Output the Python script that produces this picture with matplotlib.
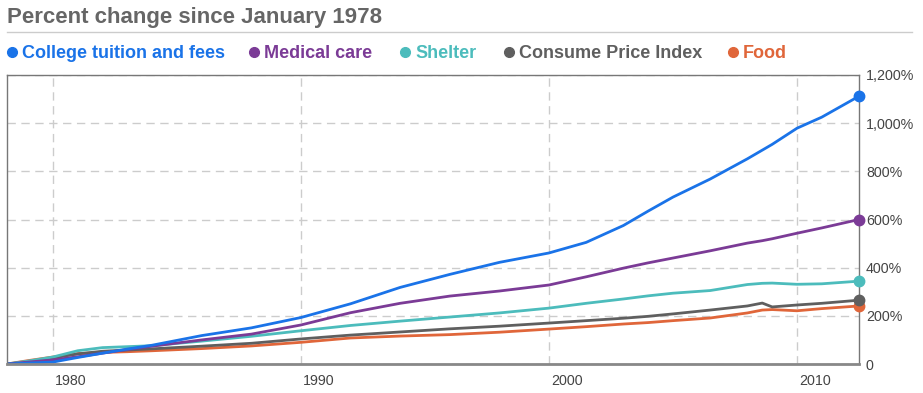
import matplotlib.pyplot as plt
import matplotlib.transforms as mtransforms
from matplotlib.lines import Line2D

years = [1978.15, 1979, 1980, 1981, 1982, 1983, 1984, 1986, 1988, 1990, 1992, 1994, 1996,
         1998, 2000, 2001.5, 2003, 2004, 2005, 2006.5, 2008, 2008.6, 2009, 2010, 2011, 2012.5]

tuition = [0, 4, 8, 27, 45, 62, 78, 118, 150, 193, 250, 318, 372,
           422, 461, 505, 575, 635, 693, 768, 852, 888, 912, 979, 1025, 1112]
medical = [0, 8, 17, 30, 45, 60, 74, 100, 124, 162, 213, 252, 282,
           303, 328, 362, 398, 420, 440, 470, 502, 512, 520, 543, 565, 600]
shelter = [0, 12, 29, 55, 68, 72, 76, 95, 115, 138, 160, 178, 195,
           212, 232, 252, 270, 283, 294, 305, 330, 335, 336, 331, 333, 344]
cpi = [0, 9, 25, 42, 53, 58, 63, 74, 86, 104, 120, 133, 146,
       157, 170, 180, 190, 198, 208, 224, 241, 253, 237, 245, 252, 265]
food = [0, 14, 29, 43, 48, 51, 55, 64, 75, 90, 108, 116, 122,
        132, 145, 155, 166, 172, 180, 191, 212, 224, 226, 221, 230, 241]

names = ['College tuition and fees', 'Medical care', 'Shelter', 'Consume Price Index', 'Food']
colors = ['#1a73e8', '#7b3b96', '#4cbcbc', '#5f5f5f', '#e0663a']
series = [tuition, medical, shelter, cpi, food]

yticks = [0, 200, 400, 600, 800, 1000, 1200]
xticks = [1980, 1990, 2000, 2010]

plt.rcParams['font.family'] = ['Liberation Sans', 'DejaVu Sans']

fig = plt.figure(figsize=(9.23, 3.93), dpi=100)
ax = fig.add_axes([7 / 923, 29 / 393, 852 / 923, 289 / 393])

# draw back to front so tuition sits on top
for vals, c in reversed(list(zip(series, colors))):
    ax.plot(years, vals, color=c, lw=2.0, solid_capstyle='round')
    ax.plot(years[-1], vals[-1], 'o', color=c, ms=7.5, clip_on=False, zorder=5)

ax.set_xlim(1978.15, 2012.5)
ax.set_ylim(0, 1200)

ax.set_yticks(yticks)
ax.set_yticklabels(['0' if v == 0 else '{:,}%'.format(v) for v in yticks])
ax.yaxis.tick_right()
ax.tick_params(axis='y', length=0, pad=5, labelsize=10.3, labelcolor='#444444')

ax.set_xticks(xticks)
ax.set_xticklabels([str(x) for x in xticks])
ax.tick_params(axis='x', length=0, pad=7, labelsize=10.3, labelcolor='#444444')
offset = mtransforms.ScaledTranslation(2 / 100, 0, fig.dpi_scale_trans)
for lab in ax.get_xticklabels():
    lab.set_horizontalalignment('left')
    lab.set_transform(lab.get_transform() + offset)

ax.grid(True, color='#cccccc', linestyle=(0, (6, 4)), linewidth=1)
ax.set_axisbelow(True)

for side in ['left', 'top', 'right']:
    ax.spines[side].set_color('#777777')
    ax.spines[side].set_linewidth(1)
ax.spines['bottom'].set_color('#888888')
ax.spines['bottom'].set_linewidth(2)

# title and rule
fig.text(7 / 923, 1 - 17 / 393, 'Percent change since January 1978', fontsize=16,
         fontweight='bold', color='#666666', va='center', ha='left')
fig.add_artist(Line2D([7 / 923, 912 / 923], [1 - 32 / 393, 1 - 32 / 393],
                      color='#cccccc', lw=1))

# legend row
dot_x = [12, 254, 405, 509, 733]
for x, name, c in zip(dot_x, names, colors):
    fig.add_artist(Line2D([x / 923], [1 - 52 / 393], marker='o', ms=7, color=c, lw=0))
    fig.text((x + 10) / 923, 1 - 53 / 393, name, fontsize=13, fontweight='bold',
             color=c, va='center', ha='left')

fig.savefig('out.png', dpi=100)
